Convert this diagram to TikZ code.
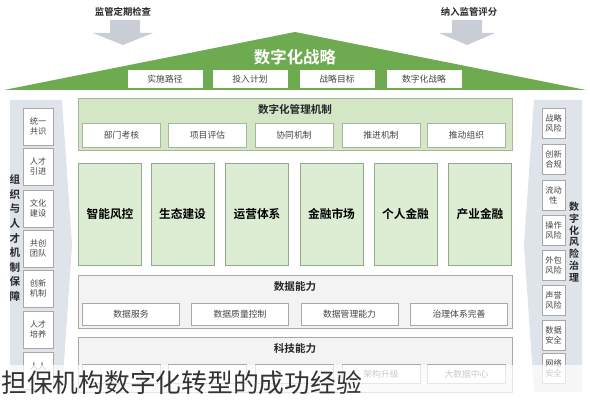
\documentclass[tikz,border=0pt]{standalone}
\usepackage{fontspec}
\newfontfamily\cjk{Noto Sans CJK SC}[BoldFont={Noto Sans CJK SC Bold}]
\usetikzlibrary{positioning}

\definecolor{roofgreen}{HTML}{6DAA50}
\definecolor{mgmtfill}{HTML}{D4E6C6}
\definecolor{mgmtdraw}{HTML}{A3B79A}
\definecolor{bigfill}{HTML}{DDEDD3}
\definecolor{bigdraw}{HTML}{93A88C}
\definecolor{grayfill}{HTML}{F3F3F3}
\definecolor{graydraw}{HTML}{A8A8A8}
\definecolor{sidefill}{HTML}{DFE3EA}
\definecolor{arrowgray}{HTML}{C8CDD6}
\definecolor{textgray}{HTML}{444444}

\tikzset{
  whitebox/.style={draw=graydraw, fill=white, inner sep=0pt, text=textgray,
    font=\cjk\fontsize{7.5}{9}\selectfont},
  roofbox/.style={whitebox, draw=none, minimum width=2.25cm, minimum height=0.54cm},
  mgmtbox/.style={whitebox, draw=mgmtdraw, line width=0.6pt, minimum width=2.34cm, minimum height=0.72cm},
  databox/.style={whitebox, line width=0.6pt, minimum width=2.91cm, minimum height=0.66cm},
  techbox/.style={whitebox, line width=0.6pt, minimum width=2.34cm, minimum height=0.57cm},
  bigbox/.style={draw=bigdraw, fill=bigfill, line width=0.6pt, inner sep=0pt,
    minimum width=1.89cm, minimum height=3.06cm, font=\cjk\bfseries\fontsize{10}{12}\selectfont},
  sidebox/.style={whitebox, align=center, font=\cjk\fontsize{7}{8.5}\selectfont},
  panel/.style={draw=graydraw, fill=grayfill, line width=0.6pt},
  heading/.style={text=black!85, font=\cjk\bfseries\fontsize{9}{11}\selectfont},
  vlabel/.style={align=center, inner sep=0pt, text=black!85}
}

\begin{document}
\begin{tikzpicture}[x=0.03cm, y=-0.03cm]
  \useasboundingbox (0,0) rectangle (590,400);

  % top: inspection and scoring
  \node[heading, font=\cjk\bfseries\fontsize{8}{10}\selectfont] (check) at (123,12) {监管定期检查};
  \node[heading, font=\cjk\bfseries\fontsize{8}{10}\selectfont] (score) at (469,12) {纳入监管评分};
  \fill[arrowgray] (110,20) -- (140,20) -- (140,33) -- (153,33) -- (123,45) -- (93,33) -- (110,33) -- cycle;
  \fill[arrowgray] (452,20) -- (482,20) -- (482,33) -- (495,33) -- (467,45) -- (439,33) -- (452,33) -- cycle;

  % roof
  \fill[roofgreen] (4,90) -- (295,32) -- (586,90) -- cycle;
  \node[text=white, font=\cjk\bfseries\fontsize{14}{16}\selectfont] (strategy) at (295,57) {数字化战略};
  \node[roofbox] (r1) at (165,79) {实施路径};
  \node[roofbox] (r2) at (250,79) {投入计划};
  \node[roofbox] (r3) at (337,79) {战略目标};
  \node[roofbox] (r4) at (424,79) {数字化战略};

  % management mechanism
  \draw[draw=mgmtdraw, fill=mgmtfill, line width=0.6pt] (78,98) rectangle (512,150);
  \node[heading] (mgmt) at (295,109) {数字化管理机制};
  \foreach \i/\x/\t in {1/121.5/部门考核, 2/207.5/项目评估, 3/294/协同机制, 4/381/推进机制, 5/466.5/推动组织}
    \node[mgmtbox] (m\i) at (\x,135) {\t};

  % business pillars
  \foreach \i/\x/\t in {1/110/智能风控, 2/182.5/生态建设, 3/257/运营体系, 4/331.5/金融市场, 5/405.5/个人金融, 6/480/产业金融}
    \node[bigbox] (b\i) at (\x,214) {\t};

  % data capability
  \draw[panel] (78,275) rectangle (512,328);
  \node[heading] (data) at (295,287) {数据能力};
  \foreach \i/\x/\t in {1/131/数据服务, 2/240/数据质量控制, 3/349.5/数据管理能力, 4/459/治理体系完善}
    \node[databox] (d\i) at (\x,314) {\t};

  % technology capability
  \draw[panel] (78,337) rectangle (512,392);
  \node[heading] (tech) at (295,349) {科技能力};
  \foreach \i/\x/\t in {1/121.5/{}, 2/207.5/{}, 3/294/{}, 4/381/架构升级, 5/466.5/大数据中心}
    \node[techbox] (t\i) at (\x,374) {\t};

  % left column
  \fill[sidefill] (10,100) -- (62,100) -- (72,245) -- (62,392) -- (10,392) -- cycle;
  \node[vlabel, font=\cjk\bfseries\fontsize{9}{12.5}\selectfont] (org) at (15,238)
    {组\\织\\与\\人\\才\\机\\制\\保\\障};
  \foreach \i/\y/\t in {1/126.5/统一\\共识, 2/166.5/人才\\引进, 3/208.5/文化\\建设, 4/248.5/共创\\团队,
                        5/288.5/创新\\机制, 6/329.5/人才\\培养, 7/371/人人\\{}}
    \node[sidebox, minimum width=0.9cm, minimum height=1.11cm] (l\i) at (38,\y) {\t};

  % right column
  \fill[sidefill] (534,100) -- (582,100) -- (582,392) -- (534,392) -- (524,245) -- cycle;
  \node[vlabel, font=\cjk\bfseries\fontsize{8.5}{10}\selectfont] (risk) at (574,242)
    {数\\字\\化\\风\\险\\治\\理};
  \foreach \i/\y/\t in {1/123/战略\\风险, 2/159/创新\\合规, 3/195/流动\\性, 4/230/操作\\风险,
                        5/265/外包\\风险, 6/300/声誉\\风险, 7/335/数据\\安全, 8/368.5/网络\\安全}
    \node[sidebox, minimum width=0.69cm, minimum height=0.9cm] (s\i) at (553.5,\y) {\t};

  % caption band
  \fill[white, opacity=0.72] (0,365) rectangle (590,400);
  \node[anchor=west, inner sep=0pt, text=black!80, font=\cjk\fontsize{22}{26}\selectfont] (caption) at (1,383)
    {担保机构数字化转型的成功经验};
\end{tikzpicture}
\end{document}
